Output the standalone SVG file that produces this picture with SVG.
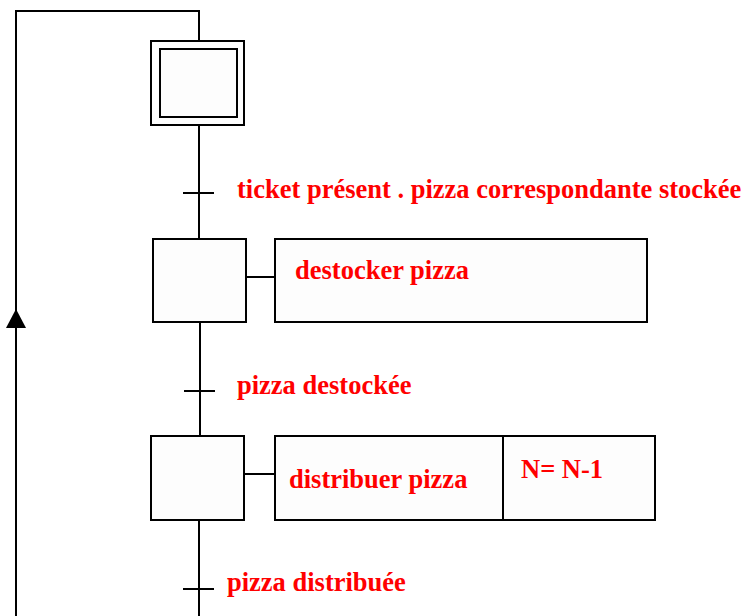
<svg xmlns="http://www.w3.org/2000/svg" width="747" height="616" viewBox="0 0 747 616">
<style>
.box{fill:#fdfdfd;stroke:#000;stroke-width:2}
.ln{fill:none;stroke:#000;stroke-width:2}
.t{font-family:"Liberation Serif","Times New Roman",serif;font-weight:bold;font-size:26.5px;fill:#ff0000}
</style>
<rect width="747" height="616" fill="#fff"/>
<g id="connectors">
<path class="ln" d="M16,616 V11 H199 V41"/>
<path d="M6,328 L16,309 L26,328 Z" fill="#000"/>
<path class="ln" d="M199,125 V239"/>
<path class="ln" d="M183,193 H214"/>
<path class="ln" d="M200,322 V436"/>
<path class="ln" d="M184,391 H215"/>
<path class="ln" d="M199,520 V616"/>
<path class="ln" d="M183,589 H214"/>
<path class="ln" d="M245,277 H275"/>
<path class="ln" d="M244,474 H275"/>
</g>
<g id="step0">
<rect class="box" x="151" y="41" width="93" height="84"/>
<rect class="box" x="160" y="49" width="77" height="68"/>
</g>
<g id="t1"><text class="t" x="237" y="198">ticket présent . pizza correspondante stockée</text></g>
<g id="step1"><rect class="box" x="153" y="239" width="93" height="83"/></g>
<g id="action1">
<rect class="box" x="275" y="239" width="372" height="83"/>
<text class="t" x="295" y="279">destocker pizza</text>
</g>
<g id="t2"><text class="t" x="237" y="394">pizza destockée</text></g>
<g id="step2"><rect class="box" x="151" y="436" width="93" height="84"/></g>
<g id="action2">
<rect class="box" x="275" y="436" width="380" height="84"/>
<line class="ln" x1="503" y1="436" x2="503" y2="520"/>
<text class="t" x="289" y="488">distribuer pizza</text>
<text class="t" x="521" y="478">N= N-1</text>
</g>
<g id="t3"><text class="t" x="227" y="591">pizza distribuée</text></g>
</svg>
